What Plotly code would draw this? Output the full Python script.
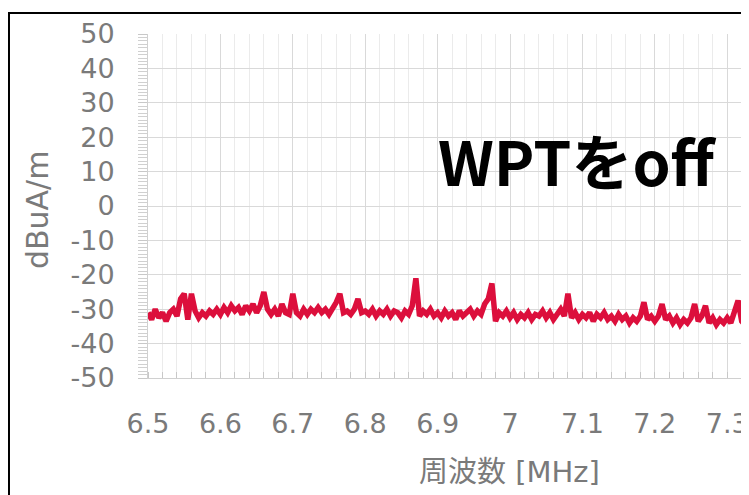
import plotly.graph_objects as go

F_START = 6.5
F_STEP = 0.005
level_dbua = [
    -31, -33, -30, -32.5, -31, -33.5, -31, -30, -32, -27,
    -25.5, -33, -25.5, -30.5, -32.5, -31, -32, -30.5, -31.5, -30,
    -31.5, -29.5, -31, -29, -30.5, -29.5, -31.5, -29, -30.5, -28.5,
    -31, -29, -25, -30, -31.5, -30, -32, -28.5, -31, -31.5,
    -25.5, -31, -32, -30, -31.5, -30, -31, -29.5, -31, -30,
    -31.5, -30, -28, -25.5, -31, -30.5, -31.5, -30, -27, -31,
    -30.5, -31.5, -30, -32, -30.5, -31.5, -30, -32, -30.5, -31,
    -32.5, -30.5, -31.5, -29, -21, -32, -30.5, -31.5, -30, -32,
    -31, -32.5, -30.5, -32, -31, -33, -30.5, -32, -31, -30,
    -32, -30.5, -31.5, -28.5, -27, -22.5, -33.5, -31, -32, -30.5,
    -32.5, -31, -33, -31.5, -32.5, -31, -33, -31.5, -32, -30.5,
    -32.5, -31, -33, -31.5, -30, -32, -25.5, -32.5, -31, -33,
    -31.5, -32.5, -31, -33.5, -31.5, -32.5, -31, -33, -32, -33.5,
    -31.5, -33, -32, -34, -32.5, -33.5, -32, -28, -33, -32,
    -33.5, -32, -28.5, -33, -32, -34, -32.5, -34.5, -33, -34,
    -32.5, -28.5, -33.5, -32, -29, -34, -32.5, -34.5, -33, -34,
    -32.5, -34, -31, -27.5, -33.5, -34.5, -35.5, -34,
]
freq_mhz = [round(F_START + F_STEP * i, 3) for i in range(len(level_dbua))]

x_ticks = [6.5, 6.6, 6.7, 6.8, 6.9, 7.0, 7.1, 7.2, 7.3]
x_labels = ["6.5", "6.6", "6.7", "6.8", "6.9", "7", "7.1", "7.2", "7.3"]
y_ticks = [50, 40, 30, 20, 10, 0, -10, -20, -30, -40, -50]
y_labels = ["50", "40", "30", "20", "10", "0", "-10", "-20", "-30", "-40", "-50"]

FONT = "DejaVu Sans, Noto Sans CJK JP, sans-serif"
GREY = "#7a7a7a"

fig = go.Figure()
fig.add_trace(
    go.Scatter(
        x=freq_mhz,
        y=level_dbua,
        mode="lines",
        line=dict(color="#dc0f3c", width=5.5),
        showlegend=False,
    )
)

# the page body keeps its default 8px margin, so the figure is 8px smaller
fig.update_layout(
    width=741,
    height=487,
    margin=dict(l=140, r=0, t=26, b=117),
    plot_bgcolor="white",
    paper_bgcolor="white",
    font=dict(family=FONT, color=GREY),
)
fig.update_xaxes(
    range=[6.5, 6.5 + 601 / 724],
    automargin=False,
    tickvals=x_ticks,
    ticktext=x_labels,
    tickfont=dict(size=27, color=GREY),
    ticks="",
    ticklabelstandoff=22,
    showgrid=True,
    gridcolor="#d9d9d9",
    gridwidth=1,
    showline=True,
    linecolor="#d0d0d0",
    linewidth=1,
    zeroline=False,
    minor=dict(dtick=0.02, tick0=6.5, showgrid=True, gridcolor="#ebebeb",
               ticks="inside", ticklen=6, tickcolor="#c8c8c8"),
)
fig.update_yaxes(
    range=[-50, 50],
    automargin=False,
    tickvals=y_ticks,
    ticktext=y_labels,
    tickfont=dict(size=27, color=GREY),
    ticks="outside",
    ticklen=9,
    tickcolor="#c8c8c8",
    ticklabelstandoff=18,
    showgrid=True,
    gridcolor="#d9d9d9",
    showline=True,
    linecolor="#d0d0d0",
    zeroline=False,
    minor=dict(dtick=1, ticks="outside", ticklen=9, tickcolor="#d0d0d0", showgrid=False),
)

# outer chart frame (cropped on the right and bottom)
fig.add_shape(
    type="rect", xref="paper", yref="paper",
    x0=-0.2313, x1=1.2, y0=-0.5, y1=1.061,
    line=dict(color="black", width=2), fillcolor="rgba(0,0,0,0)",
)

fig.add_annotation(
    text="dBuA/m", xref="paper", yref="paper", x=-0.1847, y=0.491,
    xanchor="center", yanchor="middle",
    textangle=-90, showarrow=False, font=dict(size=30, color=GREY),
)
fig.add_annotation(
    text="周波数 [MHz]", xref="paper", yref="paper", x=0.602, y=-0.272,
    xanchor="center", yanchor="middle",
    showarrow=False, font=dict(size=29, color=GREY),
)
fig.add_annotation(
    text="<b>WPTをoff</b>", xref="paper", yref="paper", x=0.714, y=0.636,
    xanchor="center", yanchor="middle",
    showarrow=False, font=dict(family="Noto Sans CJK JP", size=61, color="black"),
)

fig.write_html("out.html")
